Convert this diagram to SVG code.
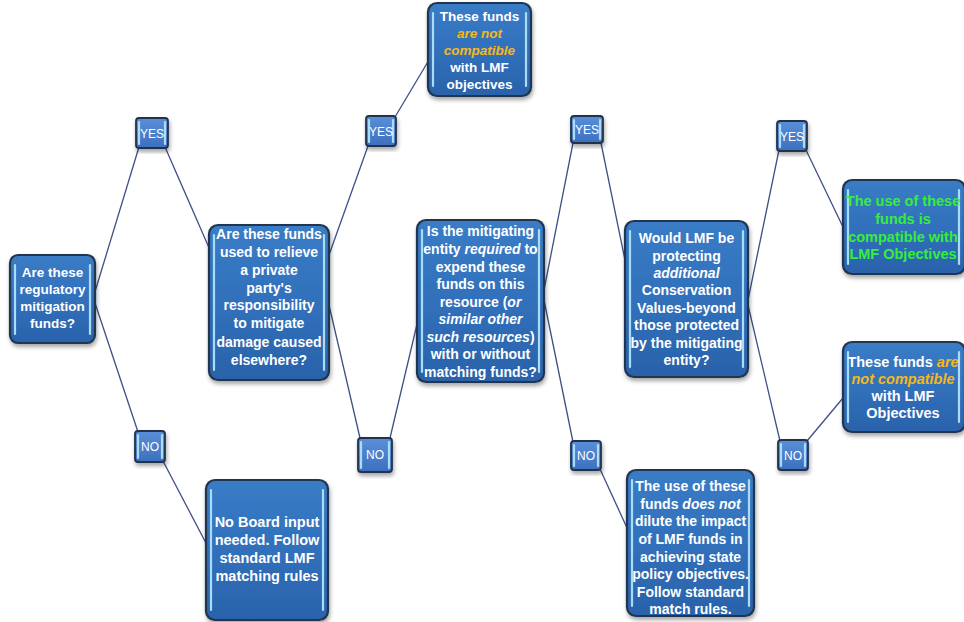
<svg xmlns="http://www.w3.org/2000/svg" width="964" height="622" viewBox="0 0 964 622">
<defs>
<linearGradient id="gBox" x1="0" y1="0" x2="0" y2="1">
<stop offset="0" stop-color="#3a7cc6"/>
<stop offset="0.5" stop-color="#3170bb"/>
<stop offset="1" stop-color="#2a62aa"/>
</linearGradient>
<linearGradient id="gSmall" x1="0" y1="0" x2="0" y2="1">
<stop offset="0" stop-color="#5a8fd8"/>
<stop offset="1" stop-color="#3c6fbf"/>
</linearGradient>
<filter id="sh" x="-10%" y="-10%" width="130%" height="130%">
<feDropShadow dx="1" dy="3" stdDeviation="2" flood-color="#000" flood-opacity="0.35"/>
</filter>
</defs>
<style>
.box{fill:url(#gBox);stroke:#22344f;stroke-width:2.2;filter:url(#sh)}
.sbox{fill:url(#gSmall);stroke:#22324c;stroke-width:1.8;filter:url(#sh)}
.hl{stroke:#a9dcf6;stroke-width:2.2;stroke-linecap:round;fill:none}
.t{font-family:"Liberation Sans",Arial,sans-serif;font-weight:bold;font-size:14px;fill:#ffffff;text-anchor:middle}
.s{font-family:"Liberation Sans",Arial,sans-serif;font-size:12px;fill:#ffffff;text-anchor:middle}
.i{font-style:italic}
.o{fill:#f7b817;font-style:italic}
.g{fill:#35ee3a}
.c{stroke:#3d4f86;stroke-width:1.3;fill:none}
</style>
<rect width="964" height="622" fill="#ffffff"/>

<g id="connectors">
<line class="c" x1="94" y1="295" x2="139" y2="147"/>
<line class="c" x1="165" y1="147" x2="210" y2="250"/>
<line class="c" x1="94" y1="300" x2="138" y2="432"/>
<line class="c" x1="163" y1="461" x2="207" y2="545"/>
<line class="c" x1="329" y1="255" x2="368" y2="146"/>
<line class="c" x1="395" y1="117" x2="429" y2="60"/>
<line class="c" x1="329" y1="305" x2="360" y2="438"/>
<line class="c" x1="390" y1="438" x2="418" y2="320"/>
<line class="c" x1="544" y1="290" x2="573" y2="143"/>
<line class="c" x1="601" y1="143" x2="626" y2="265"/>
<line class="c" x1="544" y1="300" x2="573" y2="442"/>
<line class="c" x1="600" y1="469" x2="628" y2="530"/>
<line class="c" x1="748" y1="300" x2="779" y2="150"/>
<line class="c" x1="806" y1="150" x2="843" y2="227"/>
<line class="c" x1="748" y1="305" x2="780" y2="441"/>
<line class="c" x1="807" y1="441" x2="843" y2="398"/>
</g>

<g id="n1">
<rect class="box" x="10" y="255" width="85" height="88" rx="8"/>
<line class="hl" x1="15" y1="265" x2="15" y2="334"/><line class="hl" x1="90" y1="265" x2="90" y2="334"/>
<text class="t" style="font-size:13.5px" x="52.5" y="277">Are these</text>
<text class="t" style="font-size:13.5px" x="52.5" y="294">regulatory</text>
<text class="t" style="font-size:13.5px" x="52.5" y="311">mitigation</text>
<text class="t" style="font-size:13.5px" x="52.5" y="328">funds?</text>
</g>

<g id="n2">
<rect class="box" x="209" y="225" width="120" height="155" rx="9"/>
<line class="hl" x1="214" y1="235" x2="214" y2="370"/><line class="hl" x1="324" y1="235" x2="324" y2="370"/>
<text class="t" x="269" y="239">Are these funds</text>
<text class="t" x="269" y="257">used to relieve</text>
<text class="t" x="269" y="275">a private</text>
<text class="t" x="269" y="293">party's</text>
<text class="t" x="269" y="310">responsibility</text>
<text class="t" x="269" y="328">to mitigate</text>
<text class="t" x="269" y="347">damage caused</text>
<text class="t" x="269" y="365">elsewhere?</text>
</g>

<g id="n3">
<rect class="box" x="417" y="220" width="127" height="162" rx="9"/>
<line class="hl" x1="422" y1="230" x2="422" y2="372"/><line class="hl" x1="539" y1="230" x2="539" y2="372"/>
<text class="t" x="480.5" y="236">Is the mitigating</text>
<text class="t" x="480.5" y="254">entity <tspan class="i">required</tspan> to</text>
<text class="t" x="480.5" y="272">expend these</text>
<text class="t" x="480.5" y="289">funds on this</text>
<text class="t" x="480.5" y="307">resource (<tspan class="i">or</tspan></text>
<text class="t i" x="480.5" y="324">similar other</text>
<text class="t" x="480.5" y="342"><tspan class="i">such resources</tspan>)</text>
<text class="t" x="480.5" y="359">with or without</text>
<text class="t" x="480.5" y="377">matching funds?</text>
</g>

<g id="n4">
<rect class="box" x="625" y="221" width="123" height="156" rx="9"/>
<line class="hl" x1="630" y1="231" x2="630" y2="367"/><line class="hl" x1="743" y1="231" x2="743" y2="367"/>
<text class="t" x="686.5" y="243">Would LMF be</text>
<text class="t" x="686.5" y="261">protecting</text>
<text class="t i" x="686.5" y="278">additional</text>
<text class="t" x="686.5" y="295">Conservation</text>
<text class="t" x="686.5" y="313">Values-beyond</text>
<text class="t" x="686.5" y="330">those protected</text>
<text class="t" x="686.5" y="348">by the mitigating</text>
<text class="t" x="686.5" y="365">entity?</text>
</g>

<g id="n5">
<rect class="box" x="843" y="180" width="122" height="94" rx="9"/>
<line class="hl" x1="848" y1="190" x2="848" y2="264"/><line class="hl" x1="959" y1="190" x2="959" y2="264"/>
<text class="t g" style="font-size:14.5px" x="903" y="206">The use of these</text>
<text class="t g" style="font-size:14.5px" x="903" y="224">funds is</text>
<text class="t g" style="font-size:14.5px" x="903" y="242">compatible with</text>
<text class="t g" style="font-size:14.5px" x="903" y="259">LMF Objectives</text>
</g>

<g id="n6">
<rect class="box" x="843" y="342" width="122" height="90" rx="9"/>
<line class="hl" x1="848" y1="352" x2="848" y2="422"/><line class="hl" x1="959" y1="352" x2="959" y2="422"/>
<text class="t" style="font-size:14.5px" x="903" y="367">These funds <tspan class="o">are</tspan></text>
<text class="t o" style="font-size:14.5px" x="903" y="384">not compatible</text>
<text class="t" style="font-size:14.5px" x="903" y="401">with LMF</text>
<text class="t" style="font-size:14.5px" x="903" y="418">Objectives</text>
</g>

<g id="n7">
<rect class="box" x="428" y="3" width="103" height="93" rx="9"/>
<line class="hl" x1="433" y1="13" x2="433" y2="86"/><line class="hl" x1="526" y1="13" x2="526" y2="86"/>
<text class="t" style="font-size:13.5px" x="479.5" y="21">These funds</text>
<text class="t o" style="font-size:13.5px" x="479.5" y="38">are not</text>
<text class="t o" style="font-size:13.5px" x="479.5" y="55">compatible</text>
<text class="t" style="font-size:13.5px" x="479.5" y="72">with LMF</text>
<text class="t" style="font-size:13.5px" x="479.5" y="89">objectives</text>
</g>

<g id="n8">
<rect class="box" x="206" y="480" width="122" height="140" rx="9"/>
<line class="hl" x1="211" y1="490" x2="211" y2="610"/><line class="hl" x1="323" y1="490" x2="323" y2="610"/>
<text class="t" style="font-size:14.5px" x="267" y="527">No Board input</text>
<text class="t" style="font-size:14.5px" x="267" y="545">needed. Follow</text>
<text class="t" style="font-size:14.5px" x="267" y="563">standard LMF</text>
<text class="t" style="font-size:14.5px" x="267" y="581">matching rules</text>
</g>

<g id="n9">
<rect class="box" x="627" y="470" width="127" height="146" rx="9"/>
<line class="hl" x1="632" y1="480" x2="632" y2="606"/><line class="hl" x1="749" y1="480" x2="749" y2="606"/>
<text class="t" x="690.5" y="491">The use of these</text>
<text class="t" x="690.5" y="509">funds <tspan class="i">does not</tspan></text>
<text class="t" x="690.5" y="526">dilute the impact</text>
<text class="t" x="690.5" y="544">of LMF funds in</text>
<text class="t" x="690.5" y="562">achieving state</text>
<text class="t" x="690.5" y="579">policy objectives.</text>
<text class="t" x="690.5" y="597">Follow standard</text>
<text class="t" x="690.5" y="614">match rules.</text>
</g>

<g id="yes1"><rect class="sbox" x="136" y="118" width="32" height="30" rx="3"/><line class="hl" x1="139" y1="122" x2="139" y2="144"/><line class="hl" x1="165" y1="122" x2="165" y2="144"/><text class="s" x="152" y="138">YES</text></g>
<g id="no1"><rect class="sbox" x="135" y="431" width="30" height="31" rx="3"/><line class="hl" x1="138" y1="435" x2="138" y2="458"/><line class="hl" x1="162" y1="435" x2="162" y2="458"/><text class="s" x="150" y="451">NO</text></g>
<g id="yes2"><rect class="sbox" x="366" y="116" width="30" height="30" rx="3"/><line class="hl" x1="369" y1="120" x2="369" y2="142"/><line class="hl" x1="393" y1="120" x2="393" y2="142"/><text class="s" x="381" y="136">YES</text></g>
<g id="no2"><rect class="sbox" x="358" y="438" width="34" height="34" rx="3"/><line class="hl" x1="361" y1="442" x2="361" y2="468"/><line class="hl" x1="389" y1="442" x2="389" y2="468"/><text class="s" x="375" y="459">NO</text></g>
<g id="yes3"><rect class="sbox" x="571" y="116" width="32" height="27" rx="3"/><line class="hl" x1="574" y1="120" x2="574" y2="139"/><line class="hl" x1="600" y1="120" x2="600" y2="139"/><text class="s" x="587" y="134">YES</text></g>
<g id="no3"><rect class="sbox" x="571" y="441" width="30" height="29" rx="3"/><line class="hl" x1="574" y1="445" x2="574" y2="466"/><line class="hl" x1="598" y1="445" x2="598" y2="466"/><text class="s" x="586" y="460">NO</text></g>
<g id="yes4"><rect class="sbox" x="777" y="121" width="30" height="30" rx="3"/><line class="hl" x1="780" y1="125" x2="780" y2="147"/><line class="hl" x1="804" y1="125" x2="804" y2="147"/><text class="s" x="792" y="141">YES</text></g>
<g id="no4"><rect class="sbox" x="778" y="440" width="30" height="30" rx="3"/><line class="hl" x1="781" y1="444" x2="781" y2="466"/><line class="hl" x1="805" y1="444" x2="805" y2="466"/><text class="s" x="793" y="460">NO</text></g>
</svg>
